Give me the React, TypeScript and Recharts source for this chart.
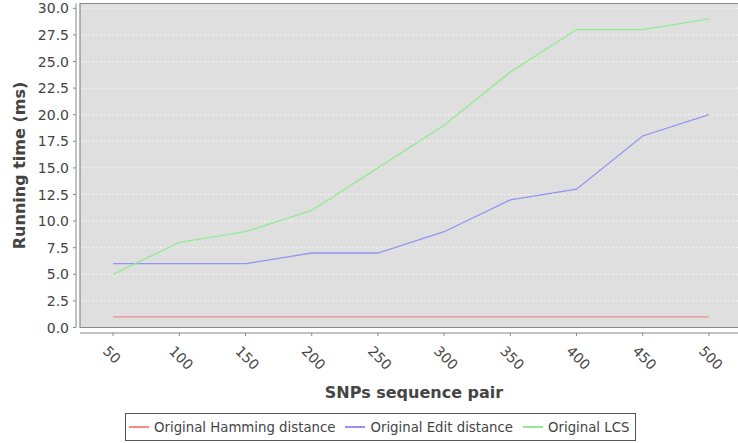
import React from 'react';
import {
  LineChart,
  Line,
  XAxis,
  YAxis,
  CartesianGrid,
  ReferenceArea,
  ReferenceLine,
  Label,
} from 'recharts';

const categories = [50, 100, 150, 200, 250, 300, 350, 400, 450, 500];
const hammingValues = [1, 1, 1, 1, 1, 1, 1, 1, 1, 1];
const editValues = [6, 6, 6, 7, 7, 9, 12, 13, 18, 20];
const lcsValues = [5, 8, 9, 11, 15, 19, 24, 28, 28, 29];
const yTicks = [0, 2.5, 5, 7.5, 10, 12.5, 15, 17.5, 20, 22.5, 25, 27.5, 30];

const series = [
  { key: 'hamming', name: 'Original Hamming distance', color: '#f48a8a', values: hammingValues },
  { key: 'edit', name: 'Original Edit distance', color: '#9494f2', values: editValues },
  { key: 'lcs', name: 'Original LCS', color: '#94ea94', values: lcsValues },
];

const data = categories.map((c, i) => {
  const row: Record<string, number> = { x: c };
  series.forEach((s) => {
    row[s.key] = s.values[i];
  });
  return row;
});

const X_DOMAIN: [number, number] = [25, 525];
const Y_DOMAIN: [number, number] = [0, 30.45];
const FONT = '"DejaVu Sans", sans-serif';
const TEXT = '#444444';
const AXIS = '#888888';

const YTick = (props: any) => {
  const { x, y, payload } = props;
  return (
    <g>
      <line x1={x - 7} x2={x - 4} y1={y} y2={y} stroke={AXIS} strokeWidth={1} />
      <text x={x - 11} y={y} dy="0.36em" textAnchor="end" fontSize={14} fill={TEXT} fontFamily={FONT}>
        {Number(payload.value).toFixed(1)}
      </text>
    </g>
  );
};

const XTick = (props: any) => {
  const { x, y, payload } = props;
  const px = x - 11;
  const py = y + 24.5;
  return (
    <g>
      <line x1={x} x2={x} y1={y + 5.5} y2={y + 8.5} stroke={AXIS} strokeWidth={1} />
      <text
        x={px}
        y={py}
        transform={`rotate(45, ${px}, ${py})`}
        textAnchor="start"
        fontSize={14}
        fill={TEXT}
        fontFamily={FONT}
      >
        {payload.value}
      </text>
    </g>
  );
};

const XTitle = (props: any) => {
  const vb = props.viewBox;
  return (
    <text
      x={vb.x + vb.width / 2 + 3}
      y={vb.y + 70}
      textAnchor="middle"
      fontSize={16}
      fontWeight="bold"
      fill={TEXT}
      fontFamily={FONT}
    >
      SNPs sequence pair
    </text>
  );
};

const YTitle = (props: any) => {
  const vb = props.viewBox;
  const cx = vb.x + 19;
  const cy = vb.y + vb.height / 2;
  return (
    <text
      x={cx}
      y={cy}
      dy="0.36em"
      transform={`rotate(-90, ${cx}, ${cy})`}
      textAnchor="middle"
      fontSize={16}
      fontWeight="bold"
      fill={TEXT}
      fontFamily={FONT}
    >
      Running time (ms)
    </text>
  );
};

export default function App() {
  return (
    <div
      style={{
        position: 'absolute',
        left: 0,
        top: 0,
        width: 738,
        height: 443,
        overflow: 'hidden',
        background: '#ffffff',
        fontFamily: FONT,
      }}
    >
      <LineChart width={746} height={443} data={data} margin={{ top: 3.5, right: 4, bottom: 0, left: 0 }}>
        <CartesianGrid
          vertical={false}
          fill="#dfdfdf"
          stroke="#f4f4f4"
          strokeDasharray="2 2"
          horizontalValues={yTicks}
        />
        <ReferenceArea
          x1={X_DOMAIN[0]}
          x2={X_DOMAIN[1]}
          y1={Y_DOMAIN[0]}
          y2={Y_DOMAIN[1]}
          fill="none"
          fillOpacity={0}
          stroke="#8a8a8a"
          strokeWidth={1.2}
          ifOverflow="visible"
        />
        <XAxis
          dataKey="x"
          type="number"
          domain={X_DOMAIN}
          ticks={categories}
          interval={0}
          allowDataOverflow
          height={115.5}
          tickSize={0}
          tickMargin={0}
          axisLine={false}
          tickLine={false}
          tick={XTick}
        >
          <Label content={XTitle} />
        </XAxis>
        <YAxis
          type="number"
          domain={Y_DOMAIN}
          ticks={yTicks}
          interval={0}
          allowDataOverflow
          width={80}
          tickSize={0}
          tickMargin={0}
          axisLine={false}
          tickLine={false}
          tick={YTick}
        >
          <Label content={YTitle} />
        </YAxis>
        <ReferenceLine
          y={0}
          ifOverflow="visible"
          shape={(p: any) => (
            <line x1={p.x1} x2={p.x2} y1={p.y1 + 5.5} y2={p.y2 + 5.5} stroke={AXIS} strokeWidth={1} />
          )}
        />
        <ReferenceLine
          x={X_DOMAIN[0]}
          ifOverflow="visible"
          shape={(p: any) => (
            <line x1={p.x1 - 4} x2={p.x2 - 4} y1={p.y1} y2={p.y2} stroke={AXIS} strokeWidth={1} />
          )}
        />
        {series.map((s) => (
          <Line
            key={s.key}
            type="linear"
            dataKey={s.key}
            name={s.name}
            stroke={s.color}
            strokeWidth={1.3}
            dot={false}
            activeDot={false}
            isAnimationActive={false}
          />
        ))}
      </LineChart>
      <div
        style={{
          position: 'absolute',
          left: 125,
          top: 413,
          width: 511,
          height: 28,
          boxSizing: 'border-box',
          border: '1px solid #555555',
          background: '#ffffff',
          display: 'flex',
          alignItems: 'center',
          paddingLeft: 3,
          fontSize: 13.3,
          color: TEXT,
          whiteSpace: 'nowrap',
        }}
      >
        {series.map((s, i) => (
          <div
            key={s.key}
            style={{ display: 'flex', alignItems: 'center', marginLeft: i === 0 ? 0 : 10 }}
          >
            <span
              style={{
                display: 'inline-block',
                width: 20,
                height: 0,
                borderTop: `2px solid ${s.color}`,
                marginRight: 5,
              }}
            />
            <span>{s.name}</span>
          </div>
        ))}
      </div>
    </div>
  );
}
